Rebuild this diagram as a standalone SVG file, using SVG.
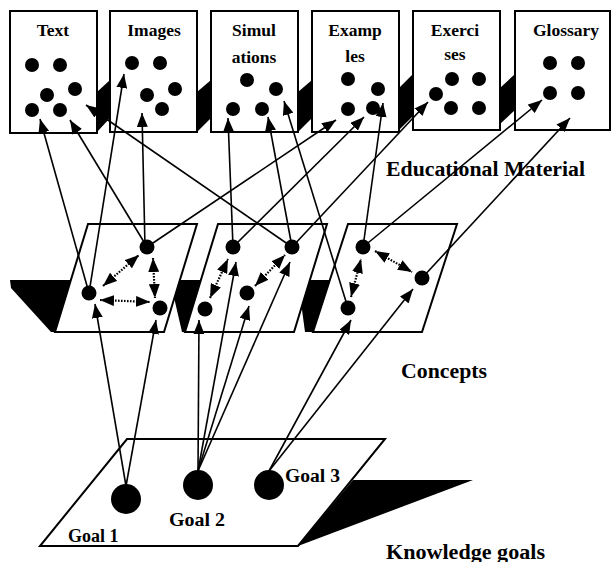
<svg xmlns="http://www.w3.org/2000/svg" width="612" height="562" viewBox="0 0 612 562">
<style>
.box{fill:#fff;stroke:#000;stroke-width:2}
.sh{fill:#000;stroke:none}
.c{fill:#000}
.ln{stroke:#000;stroke-width:1.6;fill:none;marker-end:url(#ah)}
.dt{stroke:#000;stroke-width:2.2;fill:none;stroke-dasharray:1.6 1.4;marker-end:url(#ah);marker-start:url(#ahs)}
.lbl{font-family:"Liberation Serif","Times New Roman",serif;font-weight:bold;font-size:17.5px;text-anchor:middle;fill:#000}
.gl{font-family:"Liberation Serif","Times New Roman",serif;font-weight:bold;font-size:18px;fill:#000}
.big{font-family:"Liberation Serif","Times New Roman",serif;font-weight:bold;font-size:20px;fill:#000}
</style>
<defs>
<marker id="ah" viewBox="0 0 14 11" refX="14" refY="5.5" markerWidth="14" markerHeight="11" markerUnits="userSpaceOnUse" orient="auto"><path d="M0,0 L14,5.5 L0,11 z" fill="#000"/></marker>
<marker id="ahs" viewBox="0 0 14 11" refX="14" refY="5.5" markerWidth="14" markerHeight="11" markerUnits="userSpaceOnUse" orient="auto-start-reverse"><path d="M0,0 L14,5.5 L0,11 z" fill="#000"/></marker>
</defs>

<g id="shadows-top">
<polygon class="sh" points="97,92 110,80 110,118 97,132"/>
<polygon class="sh" points="197,92 211,80 211,118 197,132"/>
<polygon class="sh" points="298,92 312,80 312,118 298,132"/>
<polygon class="sh" points="399,88 413,74 413,116 399,130"/>
<polygon class="sh" points="500,88 515,74 515,110 500,124"/>
</g>

<g id="text-box">
<rect class="box" x="10" y="11" width="87" height="122"/>
<text class="lbl" x="53" y="36">Text</text>
<circle class="c" cx="32" cy="65" r="7"/><circle class="c" cx="60" cy="65" r="7"/>
<circle class="c" cx="47" cy="95" r="7"/><circle class="c" cx="75" cy="89" r="7"/>
<circle class="c" cx="32" cy="110" r="7"/><circle class="c" cx="60" cy="110" r="7"/>
</g>
<g id="images-box">
<rect class="box" x="110" y="11" width="87" height="121"/>
<text class="lbl" x="154" y="36">Images</text>
<circle class="c" cx="132" cy="63" r="7"/><circle class="c" cx="160" cy="63" r="7"/>
<circle class="c" cx="147" cy="95" r="7"/><circle class="c" cx="175" cy="89" r="7"/>
<circle class="c" cx="162" cy="109" r="7"/>
</g>
<g id="simulations-box">
<rect class="box" x="211" y="11" width="87" height="121"/>
<text class="lbl" x="254" y="36">Simul</text>
<text class="lbl" x="254" y="63">ations</text>
<circle class="c" cx="247" cy="80" r="7"/><circle class="c" cx="276" cy="89" r="7"/>
<circle class="c" cx="233" cy="109" r="7"/><circle class="c" cx="262" cy="109" r="7"/>
</g>
<g id="examples-box">
<rect class="box" x="312" y="11" width="87" height="121"/>
<text class="lbl" x="355" y="36">Examp</text>
<text class="lbl" x="355" y="62">les</text>
<circle class="c" cx="348" cy="79" r="7"/><circle class="c" cx="378" cy="89" r="7"/>
<circle class="c" cx="348" cy="109" r="7"/><circle class="c" cx="373" cy="108" r="7"/>
</g>
<g id="exercises-box">
<rect class="box" x="413" y="11" width="87" height="119"/>
<text class="lbl" x="455" y="36">Exerci</text>
<text class="lbl" x="455" y="60">ses</text>
<circle class="c" cx="452" cy="79" r="7"/><circle class="c" cx="479" cy="79" r="7"/>
<circle class="c" cx="436" cy="94" r="7"/>
<circle class="c" cx="451" cy="108" r="7"/><circle class="c" cx="479" cy="108" r="7"/>
</g>
<g id="glossary-box">
<rect class="box" x="515" y="11" width="95" height="119"/>
<text class="lbl" x="566" y="36">Glossary</text>
<circle class="c" cx="550" cy="63" r="7"/><circle class="c" cx="578" cy="63" r="7"/>
<circle class="c" cx="550" cy="93" r="7"/><circle class="c" cx="578" cy="93" r="7"/>
</g>

<g id="concept-shadows">
<polygon class="sh" points="10,280 71,280 55,332 51,332 11,288"/>
<polygon class="sh" points="170,280 201,280 185,332 182,332"/>
<polygon class="sh" points="298,280 331,280 313,332 305,332"/>
</g>
<g id="concepts-1">
<polygon class="box" points="88,224 197,224 164,332 55,332"/>
<circle class="c" cx="147" cy="247" r="7.5"/>
<circle class="c" cx="89" cy="293" r="7.5"/>
<circle class="c" cx="160" cy="308" r="7.5"/>
</g>
<g id="concepts-2">
<polygon class="box" points="218,224 327,224 294,332 185,332"/>
<circle class="c" cx="233" cy="247" r="7.5"/>
<circle class="c" cx="292" cy="247" r="7.5"/>
<circle class="c" cx="247" cy="293" r="7.5"/>
<circle class="c" cx="205" cy="309" r="7.5"/>
</g>
<g id="concepts-3">
<polygon class="box" points="348,224 457,224 422,332 313,332"/>
<circle class="c" cx="363" cy="247" r="7.5"/>
<circle class="c" cx="422" cy="278" r="7.5"/>
<circle class="c" cx="348" cy="308" r="7.5"/>
</g>

<g id="goals">
<polygon class="sh" points="353,480 473,480 298,546"/>
<polygon class="box" points="127,439 385,439 298,546 40,546"/>
<circle class="c" cx="126" cy="499" r="15"/>
<circle class="c" cx="198" cy="485" r="15"/>
<circle class="c" cx="269" cy="485" r="15"/>
</g>

<g id="connectors">
<line class="ln" x1="126" y1="486" x2="95" y2="304"/>
<line class="ln" x1="126" y1="486" x2="156" y2="320"/>
<line class="ln" x1="198" y1="471" x2="199" y2="320"/>
<line class="ln" x1="198" y1="471" x2="236" y2="262"/>
<line class="ln" x1="198" y1="471" x2="249" y2="306"/>
<line class="ln" x1="198" y1="471" x2="290" y2="262"/>
<line class="ln" x1="269" y1="471" x2="351" y2="320"/>
<line class="ln" x1="269" y1="471" x2="413" y2="289"/>

<line class="ln" x1="89" y1="293" x2="40" y2="119"/>
<line class="ln" x1="89" y1="293" x2="124" y2="74"/>
<line class="ln" x1="147" y1="247" x2="70" y2="120"/>
<line class="ln" x1="145" y1="247" x2="142" y2="113"/>
<line class="ln" x1="147" y1="247" x2="336" y2="120"/>
<line class="ln" x1="233" y1="247" x2="228" y2="118"/>
<line class="ln" x1="233" y1="247" x2="364" y2="117"/>
<line class="ln" x1="292" y1="247" x2="86" y2="105"/>
<line class="ln" x1="292" y1="247" x2="268" y2="117"/>
<line class="ln" x1="292" y1="247" x2="428" y2="102"/>
<line class="ln" x1="363" y1="247" x2="383" y2="103"/>
<line class="ln" x1="363" y1="247" x2="542" y2="100"/>
<line class="ln" x1="422" y1="278" x2="570" y2="118"/>
<line class="ln" x1="348" y1="308" x2="284" y2="101"/>

<line class="dt" x1="103" y1="286" x2="139" y2="255"/>
<line class="dt" x1="153" y1="258" x2="155" y2="298"/>
<line class="dt" x1="100" y1="300" x2="150" y2="302"/>
<line class="dt" x1="210" y1="298" x2="228" y2="259"/>
<line class="dt" x1="255" y1="286" x2="285" y2="255"/>
<line class="dt" x1="351" y1="297" x2="361" y2="259"/>
<line class="dt" x1="375" y1="251" x2="412" y2="272"/>
</g>

<g id="labels">
<text class="big" x="386" y="176" textLength="199" lengthAdjust="spacingAndGlyphs">Educational Material</text>
<text class="big" x="401" y="378" textLength="86" lengthAdjust="spacingAndGlyphs">Concepts</text>
<text class="big" x="386" y="559" textLength="159" lengthAdjust="spacingAndGlyphs">Knowledge goals</text>
<text class="gl" x="68" y="542" font-size="17">Goal 1</text>
<text class="gl" x="169" y="526" textLength="56" lengthAdjust="spacingAndGlyphs">Goal 2</text>
<text class="gl" x="285" y="482" textLength="55" lengthAdjust="spacingAndGlyphs">Goal 3</text>
</g>
</svg>
